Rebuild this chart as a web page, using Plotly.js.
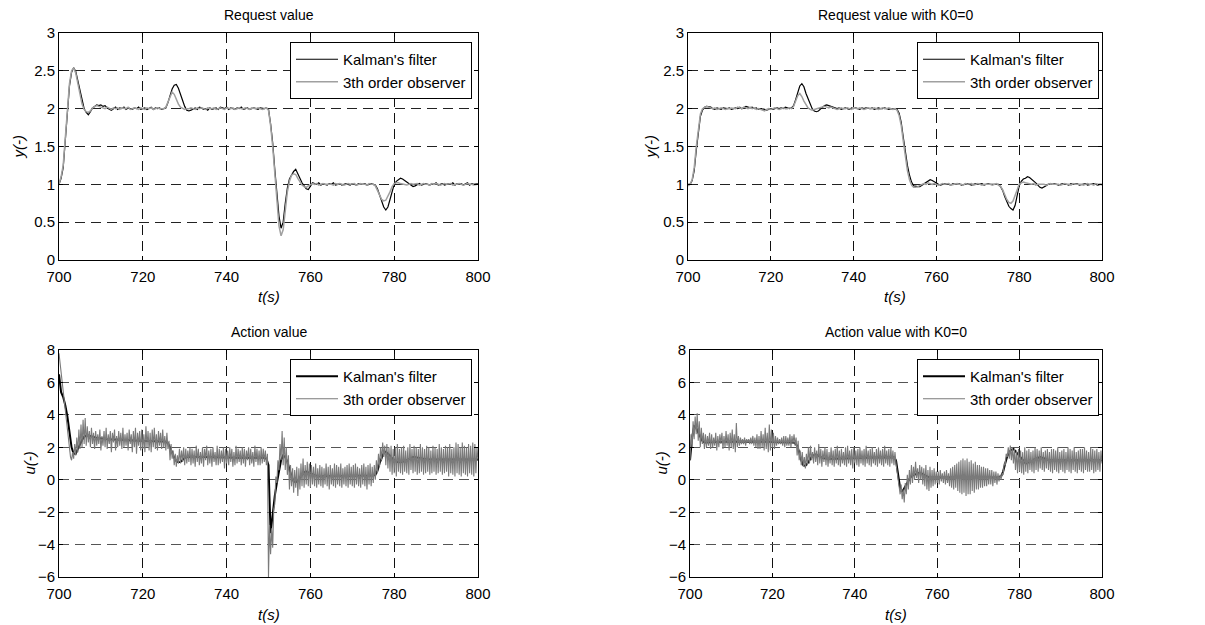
<!DOCTYPE html>
<html>
<head>
<meta charset="utf-8">
<script src="https://cdn.plot.ly/plotly-3.0.1.min.js"></script>
<style>html,body{margin:0;padding:0;background:#fff;}#chart{width:1205px;height:625px;}</style>
</head>
<body>
<div id="chart"></div>
<script>
// ---------- data (time starts at 700 s) ----------
const tStart = 700;
const stepY = 0.5;    // sampling of y curves and Kalman action curves
const stepU = 0.25;   // sampling of observer action curves

const xTickVals = [700, 720, 740, 760, 780, 800];
const yTickValsTop = [0, 0.5, 1, 1.5, 2, 2.5, 3];
const yTickValsBot = [-6, -4, -2, 0, 2, 4, 6, 8];

const seriesNames = ["Kalman's filter", "3th order observer"];
const panelTitles = ["Request value", "Request value with K0=0", "Action value", "Action value with K0=0"];

// Request value: Kalman's filter
const yKalman = [
1.00,1.08,1.22,1.55,1.98,2.30,2.48,2.54,2.49,2.36,
2.22,2.09,2.00,1.95,1.92,1.96,2.01,2.03,2.05,2.04,
2.05,2.03,2.04,2.01,1.99,1.98,2.00,2.02,1.99,2.01,
2.00,2.02,1.99,2.01,2.00,1.99,2.01,2.00,2.02,1.99,
2.00,2.01,1.99,2.00,2.02,1.99,2.01,2.00,2.01,1.99,
2.00,2.01,2.08,2.17,2.26,2.31,2.32,2.27,2.19,2.10,
2.03,1.98,1.97,1.98,2.00,2.01,1.99,2.02,2.01,1.99,
2.00,1.98,2.01,1.99,2.00,2.01,1.99,2.02,2.01,2.00,
2.02,1.99,2.01,2.00,1.99,2.01,2.00,2.02,1.99,2.00,
2.01,1.99,2.00,2.01,2.00,1.99,2.01,2.00,2.00,2.01,
1.99,1.80,1.55,1.20,0.85,0.58,0.42,0.50,0.75,0.95,
1.07,1.13,1.17,1.20,1.15,1.08,1.02,0.97,0.94,0.93,
0.97,1.02,1.01,1.00,1.02,0.99,1.01,1.00,0.99,1.01,
1.00,1.02,0.99,1.00,1.01,0.99,1.00,1.01,1.00,0.99,
1.01,1.00,0.99,1.01,1.00,1.00,1.01,0.99,1.00,1.01,
1.00,0.99,0.94,0.85,0.76,0.70,0.66,0.70,0.80,0.92,
1.00,1.04,1.06,1.08,1.07,1.05,1.02,1.00,0.98,0.97,
0.98,1.00,1.01,0.99,1.00,1.01,1.00,0.99,1.01,1.00,
1.02,0.99,1.00,1.01,0.99,1.00,1.01,1.00,1.02,0.99,
1.01,1.00,1.01,0.99,1.00,1.02,0.99,1.01,1.00,1.00,
1.01];
// Request value: 3th order observer
const yObserver = [
1.00,1.10,1.25,1.60,2.02,2.33,2.50,2.54,2.47,2.33,
2.18,2.06,1.99,1.96,1.95,1.97,2.01,2.03,2.04,2.03,
2.02,2.01,2.00,2.02,2.00,1.99,2.01,2.00,2.01,1.99,
2.01,2.00,2.00,2.02,1.99,2.00,2.01,2.00,1.99,2.01,
2.00,1.99,2.01,2.00,2.01,1.99,2.00,2.01,2.00,2.00,
2.00,2.02,2.09,2.17,2.22,2.19,2.12,2.06,2.02,2.00,
1.99,2.00,2.00,2.01,2.00,1.99,2.01,2.00,2.01,2.00,
1.99,2.01,2.00,2.00,2.01,1.99,2.00,2.01,2.00,1.99,
2.01,2.00,2.00,2.01,1.99,2.00,2.01,2.00,2.00,2.01,
2.00,1.99,2.01,2.00,2.00,2.01,2.00,1.99,2.00,2.01,
1.98,1.78,1.50,1.12,0.75,0.45,0.32,0.40,0.65,0.90,
1.04,1.12,1.14,1.13,1.08,1.03,0.99,0.97,0.96,0.98,
1.00,1.01,1.00,1.01,0.99,1.00,1.01,1.00,1.00,1.01,
1.00,0.99,1.01,1.00,1.01,1.00,0.99,1.00,1.01,1.00,
1.00,1.01,0.99,1.00,1.01,1.00,1.00,0.99,1.01,1.00,
1.00,0.98,0.93,0.86,0.80,0.78,0.79,0.84,0.90,0.97,
1.01,1.02,1.02,1.01,1.00,1.00,0.99,1.00,1.01,1.00,
1.00,1.01,0.99,1.00,1.01,1.00,1.00,0.99,1.01,1.00,
1.01,1.00,0.99,1.00,1.01,1.00,1.00,1.01,0.99,1.00,
1.00,1.01,1.00,0.99,1.00,1.01,1.00,1.00,0.99,1.00,
1.00];
// Request value with K0=0: Kalman's filter
const yKalmanK0 = [
1.00,1.00,1.05,1.18,1.45,1.72,1.90,1.98,2.02,2.03,
2.03,2.02,2.00,1.99,2.01,2.00,1.99,2.01,2.00,2.00,
2.01,1.99,2.00,2.01,2.00,2.02,2.00,2.01,2.03,2.02,
2.01,2.02,2.00,2.01,1.99,2.00,2.00,1.99,1.98,1.99,
2.00,1.99,2.00,2.01,2.00,2.01,2.00,2.02,2.01,2.00,
2.01,2.04,2.12,2.22,2.30,2.33,2.29,2.20,2.14,2.06,
2.00,1.97,1.96,1.97,2.00,2.02,2.04,2.05,2.04,2.03,
2.02,2.01,2.00,2.01,1.99,2.00,2.01,2.00,1.99,2.01,
2.00,2.01,2.00,1.99,2.01,2.00,2.01,2.00,2.00,2.01,
1.99,2.00,2.01,2.00,2.00,2.01,2.00,1.99,2.00,2.00,
2.00,1.99,1.94,1.82,1.62,1.40,1.25,1.12,1.03,0.98,
0.97,0.97,0.97,0.99,1.01,1.03,1.04,1.06,1.05,1.03,
1.01,1.00,0.99,1.00,1.01,1.00,1.00,0.99,1.01,1.00,
1.00,1.01,0.99,1.00,1.00,1.01,1.00,0.99,1.00,1.01,
1.00,1.00,1.01,0.99,1.00,1.01,1.00,1.00,1.01,1.00,
1.00,0.97,0.92,0.84,0.76,0.71,0.68,0.66,0.72,0.83,
0.98,1.04,1.07,1.08,1.10,1.09,1.07,1.05,1.02,0.99,
0.96,0.95,0.96,0.98,1.00,1.01,1.00,1.01,1.00,0.99,
1.00,1.01,1.00,1.00,0.99,1.01,1.00,1.00,1.01,0.99,
1.00,1.00,1.01,0.99,1.00,1.00,1.01,1.00,0.99,1.00,
1.00];
// Request value with K0=0: 3th order observer
const yObserverK0 = [
0.98,1.00,1.06,1.22,1.50,1.76,1.93,2.00,2.02,2.03,
2.02,2.01,2.00,2.01,1.99,2.00,2.01,2.00,1.99,2.00,
2.00,2.01,2.00,2.00,2.02,2.01,2.00,2.02,2.01,2.00,
2.02,2.00,2.01,1.99,2.00,1.99,1.98,1.97,1.99,2.00,
1.99,2.00,2.01,2.00,1.99,2.00,2.01,2.00,2.00,2.01,
2.00,2.03,2.10,2.17,2.20,2.16,2.10,2.05,2.01,1.99,
1.98,1.99,2.00,2.01,2.01,2.02,2.03,2.02,2.01,2.02,
2.01,2.00,1.99,2.00,2.01,2.00,2.00,2.01,2.00,1.99,
2.01,2.00,2.00,2.01,2.00,1.99,2.00,2.01,2.00,2.00,
2.01,2.00,1.99,2.00,2.01,2.00,2.00,2.01,2.00,1.99,
2.00,1.98,1.91,1.78,1.57,1.35,1.18,1.06,0.99,0.96,
0.96,0.97,0.99,1.00,1.01,1.00,1.02,1.01,1.00,1.01,
1.00,0.99,1.00,1.01,1.00,1.00,1.01,0.99,1.00,1.00,
1.01,1.00,1.00,0.99,1.01,1.00,1.00,1.01,0.99,1.00,
1.01,1.00,0.99,1.00,1.00,1.01,1.00,0.99,1.00,1.01,
0.99,0.97,0.93,0.86,0.80,0.76,0.75,0.78,0.86,0.95,
1.00,1.02,1.03,1.02,1.01,1.00,1.00,1.01,0.99,1.00,
1.00,1.01,1.00,0.99,1.00,1.01,1.00,1.00,1.01,1.00,
0.99,1.00,1.01,1.00,1.00,0.99,1.01,1.00,1.00,1.01,
1.00,0.99,1.00,1.01,1.00,1.00,0.99,1.01,1.00,1.00,
0.99];
// Action value: Kalman's filter
const uKalman = [
6.5,5.4,5.1,4.6,3.9,2.9,2.0,1.6,1.6,1.9,
2.2,2.45,2.65,2.72,2.72,2.68,2.62,2.6,2.58,2.55,
2.55,2.54,2.52,2.5,2.5,2.5,2.49,2.48,2.48,2.47,
2.46,2.45,2.45,2.44,2.44,2.43,2.42,2.42,2.41,2.4,
2.4,2.4,2.4,2.39,2.39,2.38,2.38,2.38,2.37,2.37,
2.36,2.35,2.25,2.0,1.65,1.35,1.15,1.08,1.1,1.25,
1.35,1.4,1.42,1.42,1.42,1.41,1.41,1.4,1.4,1.4,
1.4,1.4,1.39,1.39,1.39,1.38,1.38,1.38,1.38,1.37,
1.37,1.37,1.37,1.36,1.36,1.36,1.36,1.36,1.35,1.35,
1.35,1.35,1.35,1.35,1.35,1.35,1.35,1.35,1.35,1.3,
0.9,-3.3,-2.0,-1.0,-0.2,0.5,1.2,1.5,1.4,1.1,
0.6,0.2,-0.1,-0.15,-0.05,0.1,0.3,0.45,0.5,0.45,
0.4,0.32,0.27,0.24,0.22,0.22,0.22,0.22,0.22,0.23,
0.23,0.23,0.23,0.23,0.24,0.24,0.24,0.24,0.24,0.24,
0.24,0.25,0.25,0.25,0.25,0.25,0.25,0.25,0.26,0.26,
0.26,0.3,0.55,1.0,1.4,1.65,1.72,1.62,1.48,1.32,
1.2,1.12,1.08,1.08,1.1,1.15,1.22,1.3,1.36,1.4,
1.38,1.35,1.32,1.3,1.28,1.27,1.26,1.26,1.25,1.25,
1.25,1.25,1.25,1.25,1.25,1.25,1.25,1.25,1.25,1.25,
1.25,1.25,1.25,1.25,1.25,1.25,1.25,1.25,1.25,1.25,
1.25];
// Action value: 3th order observer
const uObserver = [
7.8,7.2,6.6,6.0,5.4,4.9,4.3,3.6,
3.0,2.4,1.8,1.4,1.2,1.7,1.3,2.2,
1.5,2.6,1.7,3.1,1.9,3.4,2.0,3.7,
2.2,3.8,2.1,3.3,2.3,3.0,2.0,3.2,
2.2,2.9,1.9,3.0,2.1,2.8,2.2,3.1,
1.8,2.7,2.1,3.0,2.0,3.2,1.9,2.8,
2.2,3.0,1.7,2.9,2.3,3.1,1.8,2.7,
2.0,3.0,2.1,2.9,1.9,3.2,2.0,2.8,
2.1,2.9,1.8,3.1,2.2,2.8,1.7,3.0,
2.0,3.2,1.6,2.9,2.1,3.0,1.8,3.1,
1.9,2.8,1.7,3.3,2.0,3.0,1.8,2.9,
1.7,3.1,2.0,3.2,1.9,2.8,1.8,3.0,
2.1,2.9,1.9,3.1,2.0,2.7,1.8,2.9,
1.9,2.4,1.2,2.2,1.3,1.8,0.9,1.6,
0.8,1.5,1.0,1.9,1.0,1.8,1.1,2.0,
0.9,1.9,1.0,1.8,1.1,2.0,0.9,1.9,
1.0,1.8,0.8,2.1,1.1,1.9,0.9,1.7,
1.0,2.0,0.8,1.9,1.2,2.1,0.9,1.8,
1.0,1.9,0.8,2.0,1.1,1.7,0.9,2.1,
0.9,1.9,1.0,1.8,1.1,2.0,0.7,1.9,
1.0,1.8,0.9,2.0,1.1,1.9,0.8,1.7,
0.9,2.1,1.0,1.9,1.1,1.8,0.9,2.0,
1.0,1.9,0.8,1.8,1.2,2.0,0.9,1.9,
1.0,1.7,0.8,2.1,1.1,1.9,0.9,1.8,
0.9,2.0,1.0,1.9,1.1,1.8,0.9,1.6,
-6.0,-2.8,-4.6,-3.0,-4.2,-1.8,-1.5,0.2,
-0.2,1.2,0.6,2.2,1.2,3.0,0.9,2.6,
0.6,2.0,0.3,1.5,-0.6,0.9,-0.4,0.7,
-0.8,0.6,-0.5,0.8,-1.0,0.7,-0.6,1.0,
-0.4,1.3,-0.5,0.9,-0.3,1.1,-0.4,1.0,
-0.5,0.9,-0.3,0.8,-0.4,1.0,-0.5,0.7,
-0.3,0.9,-0.4,0.8,-0.5,0.7,-0.3,1.0,
-0.4,0.8,-0.6,0.9,-0.3,0.7,-0.4,1.0,
-0.5,0.9,-0.3,0.8,-0.4,1.0,-0.5,0.7,
-0.3,0.8,-0.4,0.9,-0.5,1.0,-0.3,0.8,
-0.4,0.9,-0.5,1.0,-0.3,0.8,-0.4,0.7,
-0.5,0.9,-0.3,1.0,-0.4,0.8,-0.6,0.9,
-0.3,1.0,-0.4,0.8,-0.2,0.9,0.0,1.2,
0.4,1.6,0.8,2.0,1.2,2.3,1.4,2.1,
0.9,2.2,0.7,2.0,0.5,2.1,0.3,1.9,
0.4,2.0,0.2,2.2,0.5,1.9,0.4,2.0,
0.3,2.1,0.5,1.8,0.4,2.0,0.3,2.2,
0.6,1.9,0.4,2.1,0.5,2.0,0.3,1.9,
0.4,2.2,0.5,2.0,0.3,1.9,0.4,2.1,
0.5,2.0,0.3,1.8,0.4,2.1,0.5,2.0,
0.3,1.9,0.4,2.2,0.5,2.0,0.3,1.9,
0.4,2.1,0.5,2.0,0.2,2.2,0.4,1.9,
0.3,2.0,0.2,2.3,0.4,2.2,0.3,2.0,
0.2,2.3,0.4,2.1,0.3,2.0,0.2,2.2,
0.4,2.1,0.3,2.3,0.2,2.2,0.4,2.0,
1.2];
// Action value with K0=0: Kalman's filter
const uKalmanK0 = [
1.2,2.6,3.3,3.2,2.9,2.6,2.4,2.3,2.3,2.3,
2.3,2.3,2.32,2.33,2.33,2.34,2.34,2.35,2.35,2.35,
2.35,2.36,2.36,2.37,2.37,2.38,2.38,2.38,2.38,2.38,
2.38,2.38,2.37,2.37,2.36,2.36,2.35,2.35,2.34,2.34,
2.33,2.33,2.32,2.32,2.31,2.31,2.3,2.3,2.3,2.3,
2.3,2.25,2.1,1.7,1.2,0.9,0.85,1.0,1.2,1.4,
1.5,1.55,1.5,1.42,1.36,1.32,1.3,1.3,1.3,1.3,
1.3,1.3,1.31,1.31,1.32,1.32,1.32,1.33,1.33,1.33,
1.33,1.34,1.34,1.34,1.35,1.35,1.35,1.35,1.36,1.36,
1.36,1.36,1.37,1.37,1.37,1.38,1.38,1.38,1.38,1.38,
1.2,0.3,-0.5,-0.75,-0.5,-0.25,0.0,0.15,0.25,0.3,
0.38,0.42,0.42,0.35,0.25,0.18,0.15,0.14,0.14,0.14,
0.14,0.14,0.14,0.14,0.14,0.14,0.14,0.14,0.14,0.14,
0.14,0.14,0.14,0.14,0.15,0.15,0.15,0.15,0.15,0.15,
0.15,0.15,0.15,0.15,0.15,0.15,0.15,0.15,0.15,0.15,
0.15,0.2,0.5,1.0,1.45,1.7,1.85,1.9,1.75,1.55,
1.4,1.25,1.1,1.0,1.05,1.1,1.15,1.25,1.3,1.38,
1.4,1.35,1.3,1.25,1.22,1.2,1.2,1.2,1.2,1.2,
1.2,1.2,1.2,1.2,1.2,1.2,1.2,1.2,1.2,1.2,
1.2,1.2,1.2,1.2,1.2,1.2,1.2,1.2,1.2,1.2,
1.2];
// Action value with K0=0: 3th order observer
const uObserverK0 = [
1.2,2.8,2.0,3.6,2.5,3.9,2.8,4.1,
2.4,3.6,2.0,3.2,2.2,2.9,1.9,2.8,
2.0,2.7,2.1,2.9,1.9,2.8,2.0,2.6,
2.1,2.9,1.8,2.7,2.0,2.8,2.2,2.9,
1.9,2.7,2.0,3.0,2.1,2.8,1.8,2.9,
2.0,3.1,1.9,2.8,1.7,3.5,2.0,2.7,
2.1,2.6,2.2,2.5,2.2,2.6,2.1,2.5,
2.3,2.5,2.2,2.6,2.2,2.7,2.1,2.6,
2.0,2.8,1.9,2.7,1.9,3.0,2.0,2.8,
1.8,3.2,1.9,2.9,1.7,3.4,1.8,3.1,
2.0,2.9,1.9,2.7,2.1,2.6,2.2,2.5,
2.2,2.6,2.1,2.7,2.0,2.7,2.1,2.6,
2.1,2.8,2.0,2.7,2.2,2.8,2.1,2.6,
1.5,2.4,1.2,1.8,0.9,1.7,0.8,1.4,
0.7,1.6,0.9,2.0,1.0,2.1,1.2,1.7,
1.0,2.0,1.1,1.8,0.9,2.2,1.0,1.9,
0.8,1.8,1.1,2.0,0.9,1.9,0.8,1.7,
1.0,2.0,0.9,1.8,0.8,1.9,1.0,2.1,
0.9,1.8,0.8,1.9,1.0,1.7,0.9,2.0,
0.8,2.1,1.0,1.8,0.9,1.9,0.7,2.0,
1.0,1.8,0.9,1.9,0.8,2.0,1.0,1.8,
0.9,1.9,0.8,2.1,1.0,1.8,0.9,1.9,
0.8,2.0,1.0,1.7,0.9,1.9,0.8,2.0,
1.0,1.8,0.9,1.9,0.8,2.1,1.0,1.8,
0.9,1.9,0.8,2.0,1.0,1.8,0.9,1.7,
1.0,0.6,0.2,-0.4,-0.9,-0.3,-1.2,-0.6,
-1.4,-0.2,-0.9,0.3,-0.6,0.6,-0.3,0.9,
-0.2,0.8,0.0,1.1,0.1,0.7,-0.2,0.9,
0.0,0.8,-0.3,0.7,-0.4,0.9,-0.6,0.6,
-0.7,0.8,-0.5,0.6,-0.4,0.7,-0.3,0.5,
-0.2,0.5,-0.3,0.6,-0.1,0.4,-0.2,0.5,
-0.3,0.6,-0.2,0.4,-0.4,0.7,-0.5,0.8,
-0.6,0.9,-0.5,1.0,-0.7,1.1,-0.8,1.2,
-0.9,1.3,-0.8,1.2,-1.0,1.3,-0.9,1.1,
-0.9,1.2,-0.7,1.0,-0.8,1.1,-0.6,0.9,
-0.6,0.9,-0.5,0.8,-0.5,0.8,-0.4,0.7,
-0.4,0.7,-0.3,0.6,-0.3,0.6,-0.4,0.5,
-0.2,0.5,-0.3,0.4,-0.1,0.3,0.0,0.4,
0.3,1.0,0.9,1.6,1.4,2.0,1.3,2.1,
1.2,2.0,1.0,1.9,0.6,1.8,0.4,1.9,
0.5,1.8,0.4,1.7,0.3,2.0,0.5,1.8,
0.4,1.9,0.6,1.7,0.5,1.8,0.4,2.0,
0.6,1.9,0.5,1.8,0.7,2.0,0.6,1.7,
0.5,1.8,0.7,1.9,0.6,1.7,0.5,1.9,
0.4,1.9,0.6,1.8,0.5,2.0,0.4,1.7,
0.6,1.8,0.5,1.9,0.4,1.7,0.6,2.0,
0.5,1.9,0.4,1.8,0.6,2.0,0.5,1.7,
0.4,1.8,0.6,1.9,0.5,1.9,0.4,2.0,
0.6,1.8,0.5,1.7,0.5,2.0,0.6,1.9,
0.4,1.8,0.5,1.9,0.6,1.7,0.5,1.8,
1.0];

// ---------- styling ----------
const FONT = 'Arial, "Liberation Sans", sans-serif';
const W = 1205, H = 625;
// panel pixel boxes [left, right, top, bottom]
const boxes = [
  [59, 478, 33, 260],
  [688, 1102, 33, 260],
  [59, 478, 350, 577],
  [690, 1102, 350, 577]
];
const GRIDDASH = '10px,6px';

function xAxis(i) {
  const b = boxes[i];
  return {
    domain: [b[0] / W, b[1] / W],
    anchor: 'y' + (i === 0 ? '' : i + 1),
    range: [700, 800], tickvals: xTickVals, ticks: 'inside', ticklen: 4, tickcolor: '#000',
    showline: true, mirror: 'ticks', linecolor: '#000', linewidth: 1,
    showgrid: true, gridcolor: '#111', gridwidth: 1, griddash: GRIDDASH,
    zeroline: false, tickfont: {family: FONT, size: 15, color: '#000'},
    ticklabelstandoff: 3, fixedrange: true
  };
}
function yAxis(i, top) {
  const b = boxes[i];
  return {
    domain: [1 - b[3] / H, 1 - b[2] / H],
    anchor: 'x' + (i === 0 ? '' : i + 1),
    range: top ? [0, 3] : [-6, 8], tickvals: top ? yTickValsTop : yTickValsBot,
    ticks: 'inside', ticklen: 4, tickcolor: '#000',
    showline: true, mirror: 'ticks', linecolor: '#000', linewidth: 1,
    showgrid: true, gridcolor: top ? '#222' : '#555', gridwidth: 1, griddash: GRIDDASH,
    zeroline: false, tickfont: {family: FONT, size: 15, color: '#000'}, fixedrange: true
  };
}

const legendKeys = ['legend', 'legend2', 'legend3', 'legend4'];
const axSuffix = ['', '2', '3', '4'];

function lineTrace(i, name, vals, dx, color, width) {
  return {
    type: 'scatter', mode: 'lines', name: name,
    x0: tStart, dx: dx, y: vals,
    xaxis: 'x' + axSuffix[i], yaxis: 'y' + axSuffix[i],
    line: {color: color, width: width},
    legend: legendKeys[i], hoverinfo: 'skip'
  };
}

const data = [
  lineTrace(0, seriesNames[0], yKalman, stepY, '#000000', 1.2),
  lineTrace(0, seriesNames[1], yObserver, stepY, '#a0a0a0', 1.5),
  lineTrace(1, seriesNames[0], yKalmanK0, stepY, '#000000', 1.2),
  lineTrace(1, seriesNames[1], yObserverK0, stepY, '#a0a0a0', 1.5),
  lineTrace(2, seriesNames[0], uKalman, stepY, '#000000', 2),
  lineTrace(2, seriesNames[1], uObserver, stepU, '#7a7a7a', 1.1),
  lineTrace(3, seriesNames[0], uKalmanK0, stepY, '#000000', 2),
  lineTrace(3, seriesNames[1], uObserverK0, stepU, '#7a7a7a', 1.1)
];

const layout = {
  width: W, height: H, autosize: false,
  margin: {l: 0, r: 0, t: 0, b: 0, pad: 0},
  paper_bgcolor: '#fff', plot_bgcolor: '#fff',
  font: {family: FONT, size: 15, color: '#000'},
  showlegend: true,
  annotations: []
};

const legendPos = [[290, 42], [917, 42], [290, 359], [917, 359]];
const yLabelShift = [-41, -38, -30, -29];
for (let i = 0; i < 4; i++) {
  layout['xaxis' + axSuffix[i]] = xAxis(i);
  layout['yaxis' + axSuffix[i]] = yAxis(i, i < 2);
  layout[legendKeys[i]] = {
    x: legendPos[i][0] / W, y: 1 - legendPos[i][1] / H, xanchor: 'left', yanchor: 'top',
    xref: 'paper', yref: 'paper',
    bgcolor: '#fff', bordercolor: '#000', borderwidth: 1,
    font: {family: FONT, size: 15, color: '#000'}, itemwidth: 42,
    tracegroupgap: 0
  };
  const xr = 'x' + axSuffix[i] + ' domain', yr = 'y' + axSuffix[i] + ' domain';
  layout.annotations.push({
    text: panelTitles[i], xref: xr, yref: yr, x: 0.5, y: 1, yshift: 18,
    xanchor: 'center', yanchor: 'middle', showarrow: false,
    font: {family: FONT, size: 14, color: '#000'}
  });
  layout.annotations.push({
    text: '<i>t(s)</i>', xref: xr, yref: yr, x: 0.5, y: 0, yshift: -37,
    xanchor: 'center', yanchor: 'middle', showarrow: false,
    font: {family: FONT, size: 15, color: '#000'}
  });
  layout.annotations.push({
    text: i < 2 ? '<i>y(-)</i>' : '<i>u(-)</i>', xref: xr, yref: yr, x: 0, y: 0.5, xshift: yLabelShift[i],
    xanchor: 'center', yanchor: 'middle', textangle: -90, showarrow: false,
    font: {family: FONT, size: 15, color: '#000'}
  });
}

Plotly.newPlot('chart', data, layout, {displayModeBar: false, staticPlot: true});
</script>
</body>
</html>
